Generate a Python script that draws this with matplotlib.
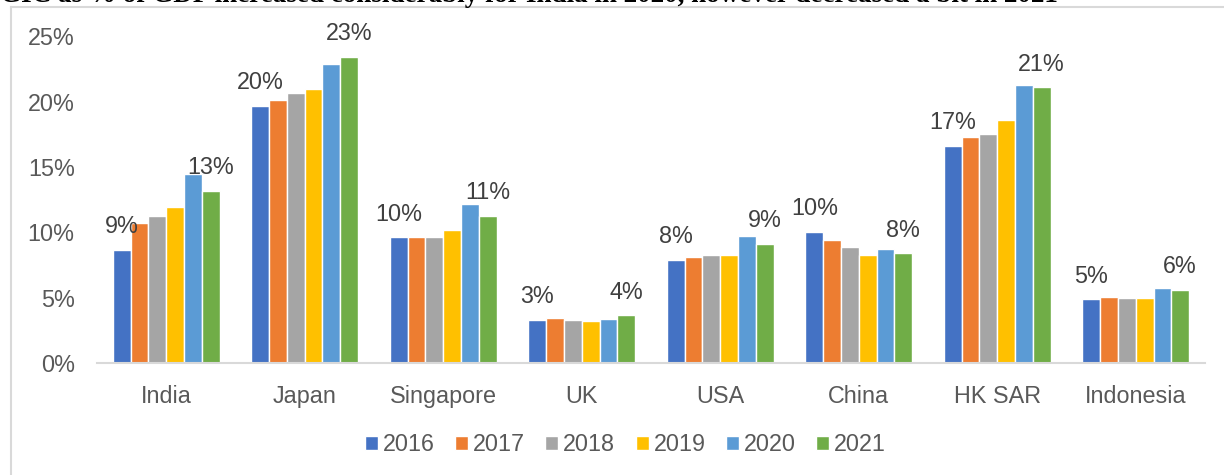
import numpy as np
import matplotlib
matplotlib.use('Agg')
from matplotlib import pyplot as plt
from matplotlib.lines import Line2D

plt.rcParams['font.family'] = ['Liberation Sans', 'DejaVu Sans']

## chart data (% of GDP)
countries = ['India', 'Japan', 'Singapore', 'UK', 'USA', 'China', 'HK SAR', 'Indonesia']
years = ['2016', '2017', '2018', '2019', '2020', '2021']
v2016 = [8.65, 19.68, 9.62, 3.32, 7.91, 10.03, 16.60, 4.87]
v2017 = [10.70, 20.16, 9.62, 3.42, 8.09, 9.44, 17.28, 5.05]
v2018 = [11.25, 20.70, 9.62, 3.32, 8.24, 8.91, 17.51, 4.99]
v2019 = [11.97, 21.00, 10.18, 3.22, 8.27, 8.27, 18.60, 4.97]
v2020 = [14.45, 22.90, 12.17, 3.39, 9.70, 8.70, 21.26, 5.77]
v2021 = [13.20, 23.45, 11.25, 3.65, 9.11, 8.40, 21.10, 5.59]
series = [v2016, v2017, v2018, v2019, v2020, v2021]
colors = ['#4472C4', '#ED7D31', '#A5A5A5', '#FFC000', '#5B9BD5', '#70AD47']
title = 'GIC as % of GDP increased considerably for India in 2020, however decreased a bit in 2021'

fig = plt.figure(figsize=(12.24, 4.75), dpi=100)
ax = fig.add_axes([0.0792, 0.2358, 0.9053, 0.6876])

x = np.arange(len(countries))
group = 0.77
w = group / len(series)
bars = []
for i, vals in enumerate(series):
    pos = x - group / 2 + w * (i + 0.5)
    b = ax.bar(pos, vals, w, color=colors[i], edgecolor='white', linewidth=1, label=years[i])
    bars.append(b)

## labels only on first and last year
for b in (bars[0], bars[-1]):
    for r in b:
        v = r.get_height()
        ax.annotate('%d%%' % round(v), (r.get_x() + r.get_width() / 2, v),
                    xytext=(0, 12), textcoords='offset points', ha='center', va='baseline',
                    fontsize=16.8, color='#404040', annotation_clip=False)

ax.set_xlim(-0.5, len(countries) - 0.5)
ax.set_ylim(0, 25)
ax.set_yticks(np.arange(0, 26, 5))
ax.set_yticklabels(['%d%%' % t for t in np.arange(0, 26, 5)])
ax.set_xticks(x)
ax.set_xticklabels(countries)
ax.tick_params(axis='y', length=0, pad=16, labelsize=16.8, labelcolor='#595959')
ax.tick_params(axis='x', length=0, pad=16, labelsize=16.8, labelcolor='#595959')
for s in ['top', 'right', 'left']:
    ax.spines[s].set_visible(False)
ax.spines['bottom'].set_color('#D9D9D9')
ax.spines['bottom'].set_linewidth(1.5)

fig.legend(loc='center', bbox_to_anchor=(0.511, 0.064), ncol=6, frameon=False,
           fontsize=16.8, labelcolor='#595959', handlelength=0.55, handleheight=0.55,
           handletextpad=0.21, columnspacing=0.88)

## chart border (only left and top visible in the crop)
fig.add_artist(Line2D([11 / 1224, 11 / 1224], [0, 1 - 7 / 475], color='#D9D9D9', lw=1.5))
fig.add_artist(Line2D([11 / 1224, 1], [1 - 7 / 475, 1 - 7 / 475], color='#D9D9D9', lw=1.5))

## title cut off at the top of the image
fig.text(0.0, 1 - 2 / 475, title, ha='left', va='baseline', fontsize=19.5,
         fontweight='bold', family='Liberation Serif', color='black')

fig.savefig('out.png', dpi=100)
